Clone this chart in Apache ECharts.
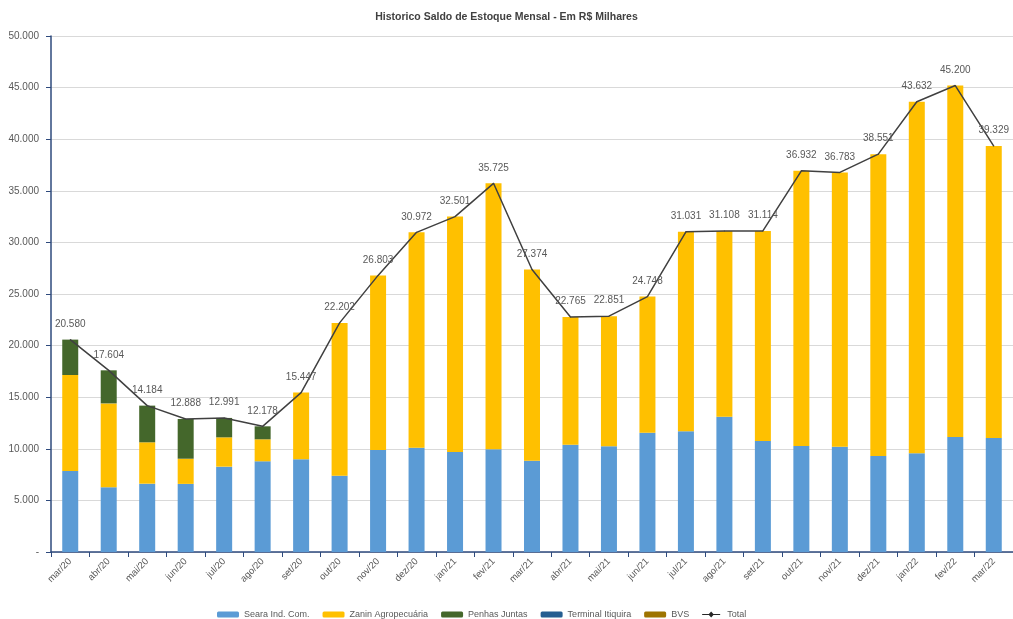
<!DOCTYPE html>
<html>
<head>
<meta charset="utf-8">
<script src="https://cdn.jsdelivr.net/npm/echarts@6/dist/echarts.min.js"></script>
<style>html,body{margin:0;padding:0;background:#fff}#c{width:1013px;height:619px}</style>
</head>
<body>
<div id="c"></div>
<script>
const categories = ['mar/20','abr/20','mai/20','jun/20','jul/20','ago/20','set/20','out/20','nov/20','dez/20','jan/21','fev/21','mar/21','abr/21','mai/21','jun/21','jul/21','ago/21','set/21','out/21','nov/21','dez/21','jan/22','fev/22','mar/22'];
const seara = [7850,6270,6620,6600,8270,8790,8980,7400,9880,10100,9690,9950,8850,10400,10240,11560,11690,13110,10760,10270,10200,9300,9560,11140,11050];
const zanin = [9300,8130,4010,2440,2840,2130,6467,14802,16923,20872,22811,25775,18524,12365,12611,13188,19341,17998,20354,26662,26583,29251,34072,34060,28279];
const penhas = [3430,3204,3554,3848,1881,1258,0,0,0,0,0,0,0,0,0,0,0,0,0,0,0,0,0,0,0];
const terminal = [0,0,0,0,0,0,0,0,0,0,0,0,0,0,0,0,0,0,0,0,0,0,0,0,0];
const bvs = [0,0,0,0,0,0,0,0,0,0,0,0,0,0,0,0,0,0,0,0,0,0,0,0,0];
const total = [20580,17604,14184,12888,12991,12178,15447,22202,26803,30972,32501,35725,27374,22765,22851,24748,31031,31108,31114,36932,36783,38551,43632,45200,39329];
const yTicks = {min:0, max:50000, interval:5000};

function fmt(v){
  if (v === 0) return '-';
  return String(Math.round(v)).replace(/\B(?=(\d{3})+(?!\d))/g, '.');
}
const FONT = 'Liberation Sans';
const axisColor = '#2E4A7D';
const textColor = '#595959';

const chart = echarts.init(document.getElementById('c'), null, {renderer:'canvas'});
function bar(name, data, color){
  return {name, type:'bar', stack:'s', data, barWidth:16, itemStyle:{color}, emphasis:{disabled:true}};
}
const lineIcon = 'path://M0,4.3 L9,4.3 L12,1 L15,4.3 L24,4.3 L24,5.7 L15,5.7 L12,9 L9,5.7 L0,5.7 Z';
chart.setOption({
  animation:false,
  title:{text:'Historico Saldo de Estoque Mensal - Em R$ Milhares', left:'center', top:7,
    textStyle:{fontFamily:FONT, fontSize:10.5, fontWeight:'bold', color:'#404040'}},
  grid:{left:51, top:36, width:967, height:516},
  legend:{top:605, left:212, itemWidth:22, itemHeight:6, itemGap:13,
    textStyle:{fontFamily:FONT, fontSize:9, color:textColor},
    data:['Seara Ind. Com.','Zanin Agropecuária','Penhas Juntas','Terminal Itiquira','BVS',
      {name:'Total', icon:lineIcon, itemStyle:{color:'#262626'}}]},
  xAxis:{type:'category', data:categories, boundaryGap:true,
    axisLine:{lineStyle:{color:axisColor, width:1.5}},
    axisTick:{show:true, length:5, lineStyle:{color:axisColor}},
    axisLabel:{rotate:45, fontFamily:FONT, fontSize:9.5, color:textColor, margin:8, interval:0}},
  yAxis:{type:'value', min:yTicks.min, max:yTicks.max, interval:yTicks.interval,
    axisLine:{show:true, lineStyle:{color:axisColor, width:1.5}},
    axisTick:{show:true, length:5, lineStyle:{color:axisColor}},
    axisLabel:{formatter:fmt, fontFamily:FONT, fontSize:10, color:textColor, margin:12},
    splitLine:{lineStyle:{color:'#D9D9D9'}}},
  series:[
    bar('Seara Ind. Com.', seara, '#5B9BD5'),
    bar('Zanin Agropecuária', zanin, '#FFC000'),
    bar('Penhas Juntas', penhas, '#44672B'),
    bar('Terminal Itiquira', terminal, '#255E91'),
    bar('BVS', bvs, '#9E7400'),
    {name:'Total', type:'line', data:total, symbol:'circle', symbolSize:1, showSymbol:true,
      lineStyle:{color:'#404040', width:1.5}, itemStyle:{color:'#404040'}, z:10,
      emphasis:{disabled:true},
      label:{show:true, position:'top', distance:10, formatter:p=>fmt(p.value),
        fontFamily:FONT, fontSize:10, color:textColor}}
  ]
});
</script>
</body>
</html>
